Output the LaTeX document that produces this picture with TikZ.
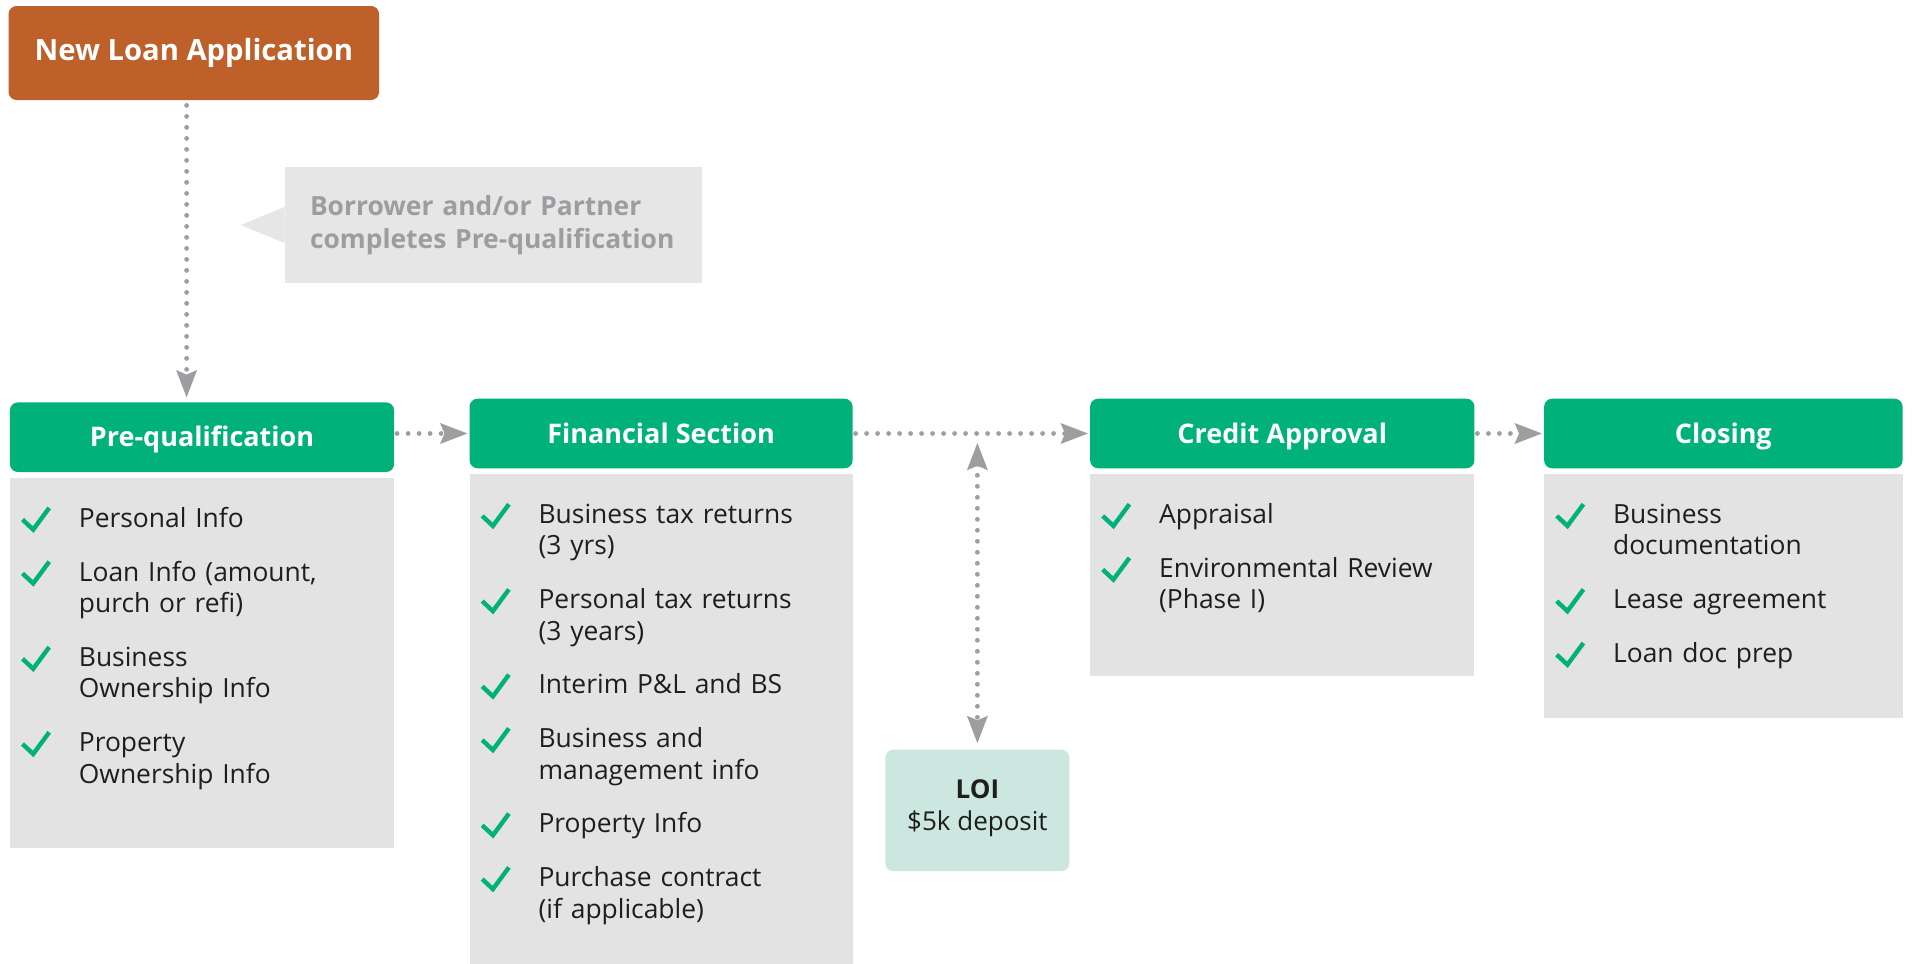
\documentclass[tikz,border=0pt]{standalone}
\usepackage{fontspec}
\setmainfont{Open Sans}
\usetikzlibrary{positioning,arrows.meta,backgrounds}

\definecolor{loanorange}{HTML}{BE6029}
\definecolor{stagegreen}{HTML}{00B27A}
\definecolor{panelgray}{HTML}{E3E3E3}
\definecolor{notegray}{HTML}{E6E6E6}
\definecolor{notetext}{HTML}{9C9DA1}
\definecolor{loimint}{HTML}{CCE7DF}
\definecolor{flowgray}{HTML}{9D9EA2}
\definecolor{ink}{HTML}{1E1E1E}

\newcommand{\itemstrut}{\rule[-4pt]{0pt}{14pt}}

\begin{document}
\begin{tikzpicture}[
	flowtip/.tip={Stealth[length=13.5pt,width=10pt,inset=2pt]},
	start/.style={fill=loanorange,rounded corners=4pt,text=white,font=\fontsize{14.6pt}{17pt}\selectfont\bfseries,
		minimum width=185.25pt,minimum height=47pt,text height=10.4pt,text depth=3pt,inner sep=0pt},
	remark/.style={fill=notegray,text=notetext,font=\fontsize{13.2pt}{16.5pt}\selectfont\bfseries,
		text width=183.5pt,align=left,inner xsep=12.5pt,minimum height=58pt},
	stage/.style={fill=stagegreen,rounded corners=4pt,text=white,font=\fontsize{13.5pt}{16pt}\selectfont\bfseries,
		minimum height=34.8pt,text height=9.64pt,text depth=0pt,inner sep=0pt,outer sep=0pt},
	panel/.style={fill=panelgray,inner sep=0pt,outer sep=0pt},
	item/.style={text=ink,font=\fontsize{13.2pt}{15.8pt}\selectfont,text width=145pt,align=left,
		inner sep=0pt,outer sep=0pt,execute at begin node=\itemstrut,execute at end node=\itemstrut},
	tick/.style={draw=stagegreen,line width=2.2pt},
	loi/.style={fill=loimint,rounded corners=4pt,text=ink,font=\fontsize{13pt}{16pt}\selectfont,align=center,
		minimum width=92pt,minimum height=60.7pt,text depth=5.5pt},
	flow/.style={draw=flowgray,line width=2.4pt,line cap=round,dash pattern=on 0pt off 5.5pt,-flowtip}]
	\useasboundingbox[fill=white] (0,0) rectangle (956pt,-482pt);

	\node[start] (nla) at (96.9pt,-26.5pt) {New Loan Application};
	\node[remark] (hint) at (246.75pt,-112.5pt) {Borrower and/or Partner\\completes Pre-qualification};
	\fill[notegray] ([yshift=9pt]hint.west) -- ++(-22pt,-9pt) -- ([yshift=-9pt]hint.west) -- cycle;

	% stage headers and their panels
	\node[stage,minimum width=192.1pt] (pq) at (101pt,-218.6pt) {Pre-qualification};
	\node[stage,minimum width=191.5pt,right=37.75pt of pq,yshift=1.85pt] (fs) {Financial Section};
	\node[stage,minimum width=192.15pt,right=118.75pt of fs] (ca) {Credit Approval};
	\node[stage,minimum width=179.25pt,right=34.85pt of ca] (cl) {Closing};
	\node[panel,minimum width=192.1pt,minimum height=184.75pt,below=3pt of pq] (pqb) {};
	\node[panel,minimum width=191.5pt,minimum height=244.85pt,below=3pt of fs] (fsb) {};
	\node[panel,minimum width=192.15pt,minimum height=100.65pt,below=3pt of ca] (cab) {};
	\node[panel,minimum width=179.25pt,minimum height=121.95pt,below=3pt of cl] (clb) {};
	\begin{scope}[on background layer]
		\foreach \s in {pq,fs,ca,cl}
			\fill[stagegreen] (\s.south west) rectangle (\s.east);
	\end{scope}

	% checklists
	\node[item,below right=14.5pt and 34.5pt of pqb.north west] (p1) {Personal Info};
	\node[item,below=12.8pt of p1] (p2) {Loan Info (amount,\\purch or refi)};
	\node[item,below=12.8pt of p2] (p3) {Business\\Ownership Info};
	\node[item,below=12.8pt of p3] (p4) {Property\\Ownership Info};

	\node[item,below right=14.5pt and 34.5pt of fsb.north west] (f1) {Business tax returns\\(3 yrs)};
	\node[item,below=12.8pt of f1] (f2) {Personal tax returns\\(3 years)};
	\node[item,below=12.8pt of f2] (f3) {Interim P\&L and BS};
	\node[item,below=12.8pt of f3] (f4) {Business and\\management info};
	\node[item,below=12.8pt of f4] (f5) {Property Info};
	\node[item,below=12.8pt of f5] (f6) {Purchase contract\\(if applicable)};

	\node[item,below right=14.5pt and 34.5pt of cab.north west] (c1) {Appraisal};
	\node[item,below=12.8pt of c1] (c2) {Environmental Review\\(Phase I)};

	\node[item,below right=14.5pt and 34.5pt of clb.north west] (d1) {Business\\documentation};
	\node[item,below=12.8pt of d1] (d2) {Lease agreement};
	\node[item,below=12.8pt of d2] (d3) {Loan doc prep};

	\foreach \t in {p1,p2,p3,p4,f1,f2,f3,f4,f5,f6,c1,c2,d1,d2,d3}
		\draw[tick] ([shift={(-28.2pt,-6.3pt)}]\t.north west) -- ++(5.35pt,-5pt) -- ++(8pt,10.85pt);

	\node[loi] (loi) at (488.7pt,-405.2pt) {\textbf{LOI}\\\$5k deposit};

	% dotted connectors
	\draw[flow] ([shift={(-3.6pt,-2.5pt)}]nla.south) -- ([shift={(-3.6pt,2.4pt)}]pq.north -| nla.south);
	\draw[flow] ([xshift=1.5pt]pq.east |- fs.west) -- ([xshift=-1pt]fs.west);
	\draw[flow] ([xshift=1.5pt]fs.east) -- ([xshift=-1pt]ca.west);
	\draw[flow] ([xshift=1.5pt]ca.east) -- ([xshift=-1pt]cl.west);
	\draw[flow,flowtip-flowtip] ([yshift=-4.6pt]loi.north |- fs.east) -- ([yshift=3pt]loi.north);
\end{tikzpicture}
\end{document}
